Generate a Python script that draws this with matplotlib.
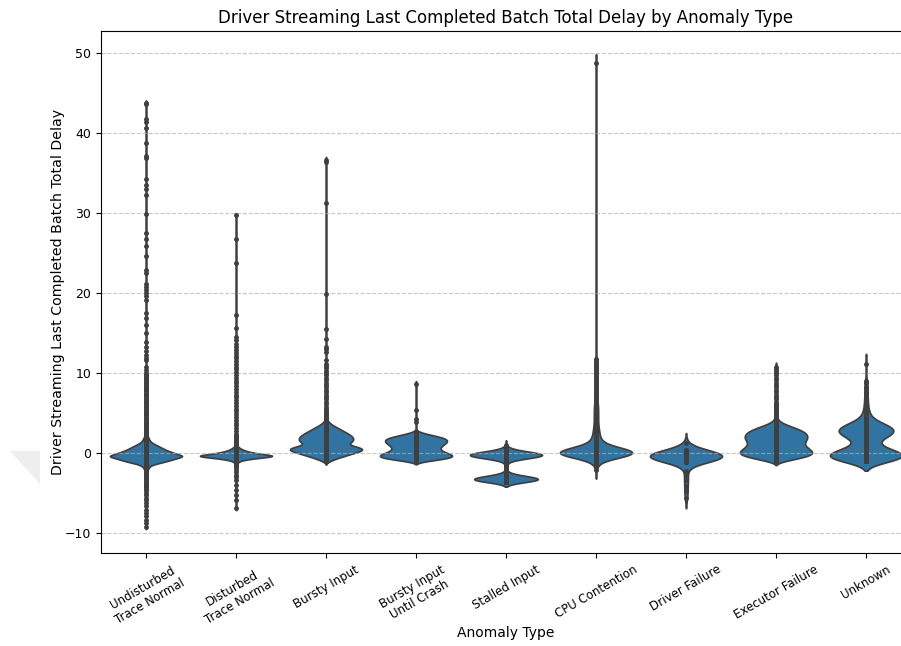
import numpy as np
import matplotlib
matplotlib.use("Agg")
import matplotlib.pyplot as plt
from matplotlib.patches import Polygon
import seaborn as sns

categories = [
    "Undisturbed\nTrace Normal",
    "Disturbed\nTrace Normal",
    "Bursty Input",
    "Bursty Input\nUntil Crash",
    "Stalled Input",
    "CPU Contention",
    "Driver Failure",
    "Executor Failure",
    "Unknown",
]

# (delay value, number of batches) for the bulk of each anomaly type,
# plus individual batches listed on their own.
undisturbed_body = [
    (-4.6, 2), (-4.3, 2), (-4.0, 2), (-3.7, 2), (-3.4, 2), (-3.1, 2), (-2.8, 3),
    (-2.5, 3), (-2.2, 4), (-2.0, 5), (-1.8, 7), (-1.6, 11), (-1.4, 20), (-1.2, 38),
    (-1.0, 54), (-0.8, 68), (-0.6, 80), (-0.4, 100), (-0.2, 84), (0.0, 72), (0.2, 60),
    (0.4, 50), (0.6, 42), (0.8, 34), (1.0, 26), (1.2, 18), (1.4, 12), (1.6, 9),
    (1.8, 7), (2.0, 6), (2.3, 5), (2.6, 4), (2.9, 4), (3.2, 3), (3.5, 3), (3.8, 3),
    (4.1, 2), (4.4, 2), (4.7, 2), (5.0, 2), (5.3, 2), (5.6, 2), (5.9, 2), (6.2, 2),
    (6.5, 2), (6.8, 2), (7.1, 2), (7.4, 2), (7.7, 2), (8.0, 2), (8.3, 2), (8.6, 2),
    (8.9, 2), (9.2, 2), (9.5, 2), (9.8, 2),
]
undisturbed_points = [
    -9.2, -8.8, -8.4, -7.9, -7.5, -7.1, -6.6, -6.25, -5.9, -5.6, -5.25, -5.0,
    10.0, 10.4, 10.8, 11.6, 11.9, 12.3, 12.8, 13.3, 13.9, 15.0, 16.0, 16.9, 17.5,
    19.1, 19.6, 20.0, 20.4, 20.8, 21.2, 22.5, 22.9, 24.6, 25.9, 26.8, 27.5, 29.9,
    32.3, 33.0, 33.5, 34.3, 36.9, 37.2, 38.8, 40.6, 41.4, 41.8, 43.6, 43.8,
]

disturbed_body = [
    (-3.0, 1), (-2.7, 1), (-2.4, 1), (-2.1, 1), (-1.8, 2), (-1.55, 2), (-1.4, 3),
    (-1.25, 3), (-1.1, 6), (-0.95, 12), (-0.8, 25), (-0.65, 48), (-0.5, 75),
    (-0.35, 100), (-0.2, 75), (-0.05, 52), (0.1, 36), (0.25, 25), (0.4, 17),
    (0.55, 11), (0.7, 7), (0.85, 4), (1.0, 3), (1.2, 2), (1.5, 2), (1.8, 2), (2.1, 2),
]
disturbed_points = [
    -6.9, -5.9, -5.25, -4.6, -4.0, -3.4,
    2.4, 2.75, 3.1, 3.45, 3.8, 4.15, 4.5, 4.85, 5.2, 5.55, 5.9, 6.25, 6.6, 6.95,
    7.3, 7.65, 8.0, 8.35, 8.7, 9.05, 9.4, 9.75, 10.1, 10.45, 10.8, 11.15, 11.5,
    11.85, 12.2, 12.55, 12.9, 13.25, 13.7, 14.1, 14.5, 15.6, 17.25, 23.8, 26.8, 29.75,
]

bursty_body = [
    (-1.0, 10), (-0.8, 20), (-0.6, 30), (-0.4, 45), (-0.2, 58), (0.0, 70), (0.2, 85),
    (0.4, 100), (0.6, 95), (0.8, 78), (1.0, 55), (1.2, 55), (1.4, 67), (1.6, 70),
    (1.8, 70), (2.0, 68), (2.2, 64), (2.4, 57), (2.6, 50), (2.8, 42), (3.0, 35),
    (3.2, 28), (3.4, 20), (3.6, 13), (3.8, 8), (4.0, 5), (4.3, 3), (4.6, 2), (4.9, 2),
    (5.2, 2),
]
bursty_points = [
    5.5, 5.8, 6.1, 6.4, 6.7, 7.0, 7.3, 7.6, 7.9, 8.2, 8.5, 8.8, 9.1, 9.4, 9.7, 10.0,
    10.3, 10.6, 10.9, 11.2, 11.6, 12.7, 13.0, 13.3, 14.3, 15.5, 19.9, 31.3, 36.4, 36.6,
]

until_crash_body = [
    (-1.0, 18), (-0.8, 38), (-0.6, 55), (-0.4, 62), (-0.2, 58), (0.0, 50), (0.2, 43),
    (0.4, 39), (0.6, 38), (0.8, 40), (1.0, 43), (1.2, 47), (1.4, 50), (1.6, 51),
    (1.8, 48), (2.0, 40), (2.2, 28), (2.4, 16), (2.6, 7),
]
until_crash_points = [3.9, 4.2, 5.4, 8.6]

stalled_body = [
    (-3.6, 25), (-3.4, 55), (-3.2, 55), (-3.0, 35), (-2.8, 15), (-2.6, 4),
    (-2.2, 2), (-1.9, 2), (-1.6, 2), (-1.3, 2), (-1.0, 3), (-0.8, 10), (-0.6, 30),
    (-0.4, 55), (-0.2, 60), (0.0, 45), (0.2, 22), (0.4, 8), (0.6, 3), (0.8, 1), (1.0, 1),
]
stalled_points = []

cpu_body = [
    (-2.1, 1), (-1.8, 1), (-1.5, 1), (-1.2, 2), (-0.9, 3), (-0.6, 10), (-0.3, 40),
    (0.0, 60), (0.3, 45), (0.6, 20), (0.9, 8), (1.2, 6), (1.5, 5), (1.8, 4), (2.1, 4),
    (2.4, 3), (2.7, 3), (3.0, 3), (3.3, 2), (3.6, 2), (3.9, 2), (4.2, 2), (4.5, 2),
    (4.8, 2), (5.1, 2), (5.4, 2), (5.7, 2), (6.0, 2),
]
cpu_points = [
    6.25, 6.5, 6.75, 7.0, 7.25, 7.5, 7.75, 8.0, 8.25, 8.5, 8.75, 9.0, 9.25, 9.5,
    9.75, 10.0, 10.25, 10.5, 10.75, 11.0, 11.25, 11.5, 11.75, 48.8,
]

driver_body = [(-1.1, 4), (-0.8, 10), (-0.5, 17), (-0.2, 14), (0.1, 8), (0.4, 4)]
driver_points = [1.2, -2.2, -2.8, -3.4, -4.1, -4.8, -5.6]

executor_body = [
    (-1.0, 15), (-0.75, 30), (-0.5, 45), (-0.25, 57), (0.0, 60), (0.25, 58),
    (0.5, 54), (0.75, 49), (1.0, 46), (1.25, 46), (1.5, 47), (1.75, 50), (2.0, 51),
    (2.25, 50), (2.5, 48), (2.75, 43), (3.0, 36), (3.25, 27), (3.5, 18), (3.75, 10),
    (4.0, 5), (4.3, 3), (4.6, 2), (4.9, 2), (5.2, 2), (5.5, 2), (5.8, 2), (6.1, 2),
]
executor_points = [
    6.4, 6.7, 7.0, 7.3, 7.6, 7.9, 8.2, 8.5, 8.8, 9.1, 9.4, 9.7, 10.0, 10.3, 10.5, 10.8,
]

unknown_body = [
    (-1.0, 18), (-0.7, 24), (-0.4, 26), (-0.1, 24), (0.2, 18), (0.5, 12), (0.8, 7),
    (1.1, 5), (1.4, 5), (1.7, 6), (2.0, 11), (2.3, 15), (2.6, 18), (2.9, 18),
    (3.2, 16), (3.5, 12), (3.8, 8), (4.1, 4), (4.4, 2), (4.7, 2), (5.0, 2), (5.3, 2),
]
unknown_points = [5.6, 5.9, 6.2, 6.5, 6.8, 7.1, 7.5, 7.9, 8.3, 8.7, 9.0, 11.2]

groups = [
    (undisturbed_body, undisturbed_points),
    (disturbed_body, disturbed_points),
    (bursty_body, bursty_points),
    (until_crash_body, until_crash_points),
    (stalled_body, stalled_points),
    (cpu_body, cpu_points),
    (driver_body, driver_points),
    (executor_body, executor_points),
    (unknown_body, unknown_points),
]

# KDE bandwidth (in delay units) used for each violin
kde_bandwidth = [0.15, 0.12, 0.22, 0.2, 0.3, 0.55, 0.65, 0.25, 0.6]

W, H = 901, 646
fig = plt.figure(figsize=(W / 100, H / 100), dpi=100)
ax = fig.add_axes([101 / W, 1 - 553.3 / H, 810 / W, (553.3 - 31) / H])

for name, (body, pts), bw in zip(categories, groups, kde_bandwidth):
    vals = np.array([v for v, _ in body] + list(pts), dtype=float)
    reps = np.array([c for _, c in body] + [1] * len(pts))
    obs = np.repeat(vals, reps)
    factor = bw / obs.std(ddof=1)
    sns.violinplot(
        x=[name] * len(obs), y=obs, order=categories, color="#1f77b4",
        inner="point", density_norm="width", cut=2, bw_method=factor,
        gridsize=2000, ax=ax,
    )

ax.set_xlim(-0.5, 8.5)
ax.set_ylim(-12.54, 52.79)
ax.grid(axis="y", linestyle="--", alpha=0.7)
ax.set_xticks(range(len(categories)))
ax.set_xticklabels(categories, rotation=30, ha="center", fontsize=8.5)
ax.tick_params(axis="y", labelsize=9)
ax.set_title("Driver Streaming Last Completed Batch Total Delay by Anomaly Type", fontsize=12)
ax.set_xlabel("Anomaly Type", fontsize=10, labelpad=0)
ax.set_ylabel("Driver Streaming Last Completed Batch Total Delay", fontsize=10.2, labelpad=0)

fig.patches.append(Polygon(
    [[10 / W, 1 - 451 / H], [40 / W, 1 - 451 / H], [40 / W, 1 - 484 / H]],
    closed=True, transform=fig.transFigure, facecolor="#eeeeee", edgecolor="none",
))

fig.savefig("out.png", dpi=100)
